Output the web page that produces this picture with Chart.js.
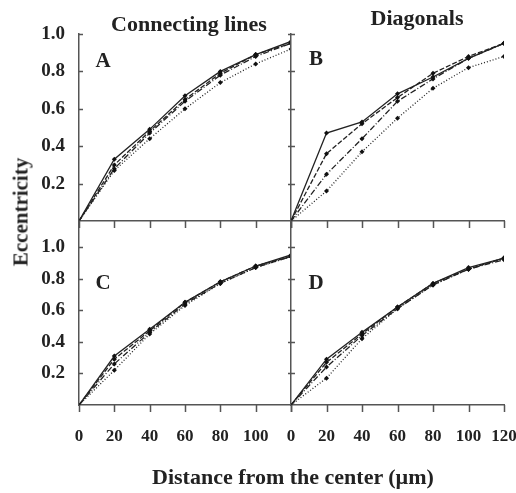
<!DOCTYPE html>
<html>
<head>
<meta charset="utf-8">
<script src="https://cdn.jsdelivr.net/npm/chart.js@4.4.1/dist/chart.umd.min.js"></script>
<style>
  html, body { margin: 0; padding: 0; background: #fff; }
  #wrap { position: relative; width: 516px; height: 493px; overflow: hidden; font-family: 'Liberation Serif', 'DejaVu Serif', serif; font-weight: bold; color: #222; }
  #wrap canvas { position: absolute; left: 0; top: 0; }
  .lbl { position: absolute; white-space: nowrap; transform: translate(-50%, -50%); line-height: 1; }
</style>
</head>
<body>
<div id="wrap">
  <canvas id="chart-a" width="516" height="493"></canvas>
  <canvas id="chart-b" width="516" height="493"></canvas>
  <canvas id="chart-c" width="516" height="493"></canvas>
  <canvas id="chart-d" width="516" height="493"></canvas>
  <div class="lbl" style="left:189px;top:24px;font-size:22px">Connecting lines</div>
  <div class="lbl" style="left:417px;top:18px;font-size:22px">Diagonals</div>
  <div class="lbl" style="left:103px;top:60px;font-size:21px">A</div>
  <div class="lbl" style="left:316px;top:58px;font-size:21px">B</div>
  <div class="lbl" style="left:103px;top:282px;font-size:21px">C</div>
  <div class="lbl" style="left:316px;top:282px;font-size:21px">D</div>
  <div class="lbl" style="left:21px;top:212px;font-size:21px;transform:translate(-50%,-50%) rotate(-90deg)">Eccentricity</div>
  <div class="lbl" style="left:293px;top:477px;font-size:22px">Distance from the center (µm)</div>
</div>
<script>
// distance from the center, in µm
const distances = [0, 20, 40, 60, 80, 100, 120];
const yTicks = [0.2, 0.4, 0.6, 0.8, 1.0];

// A: connecting lines, upper row
const seriesA1 = [0, 0.33, 0.49, 0.67, 0.80, 0.89, 0.96];
const seriesA2 = [0, 0.30, 0.48, 0.65, 0.79, 0.89, 0.95];
const seriesA3 = [0, 0.28, 0.47, 0.64, 0.78, 0.88, 0.95];
const seriesA4 = [0, 0.27, 0.44, 0.60, 0.74, 0.84, 0.92];

// B: diagonals, upper row
const seriesB1 = [0, 0.47, 0.53, 0.68, 0.77, 0.87, 0.95];
const seriesB2 = [0, 0.36, 0.52, 0.66, 0.79, 0.88, 0.95];
const seriesB3 = [0, 0.25, 0.44, 0.64, 0.76, 0.87, 0.95];
const seriesB4 = [0, 0.16, 0.37, 0.55, 0.71, 0.82, 0.88];

// C: connecting lines, lower row
const seriesC1 = [0, 0.31, 0.48, 0.65, 0.78, 0.88, 0.95];
const seriesC2 = [0, 0.29, 0.47, 0.65, 0.78, 0.88, 0.94];
const seriesC3 = [0, 0.26, 0.46, 0.64, 0.77, 0.87, 0.94];
const seriesC4 = [0, 0.22, 0.45, 0.63, 0.77, 0.87, 0.94];

// D: diagonals, lower row
const seriesD1 = [0, 0.29, 0.46, 0.62, 0.77, 0.87, 0.93];
const seriesD2 = [0, 0.27, 0.45, 0.62, 0.77, 0.86, 0.93];
const seriesD3 = [0, 0.24, 0.44, 0.61, 0.76, 0.86, 0.92];
const seriesD4 = [0, 0.17, 0.42, 0.61, 0.76, 0.86, 0.93];

const dashes = [[], [5, 2], [6, 2, 1, 2], [1, 2]];
const W = 516;
const H = 493;
const FONT = "'Liberation Serif', 'DejaVu Serif', serif";

// short tick marks: x ticks hang below the axis, y ticks straddle it
const tickMarks = {
  id: 'tickMarks',
  afterDraw(chart, args, opts) {
    const { ctx, chartArea } = chart;
    const x = chart.scales.x;
    const y = chart.scales.y;
    ctx.save();
    ctx.strokeStyle = '#555';
    ctx.lineWidth = 1.5;
    ctx.beginPath();
    distances.forEach((d) => {
      const px = Math.round(x.getPixelForValue(d)) + 0.5;
      ctx.moveTo(px, chartArea.bottom);
      ctx.lineTo(px, chartArea.bottom + 7);
    });
    yTicks.forEach((v) => {
      const py = Math.round(y.getPixelForValue(v)) + 0.5;
      ctx.moveTo(chartArea.left - opts.out, py);
      ctx.lineTo(chartArea.left + 4, py);
    });
    ctx.stroke();
    ctx.restore();
  }
};

function makePanel(id, series, area, yMax, showYLabels, xLabelMax) {
  new Chart(document.getElementById(id), {
    type: 'line',
    data: {
      labels: distances,
      datasets: series.map((values, i) => ({
        data: values.map((v, j) => ({ x: distances[j], y: v })),
        borderColor: '#222',
        borderWidth: 1.3,
        borderDash: dashes[i],
        pointRadius: values.map((v, j) => (j === 0 ? 0 : 2.5)),
        pointStyle: 'rectRot',
        pointBackgroundColor: '#111',
        pointBorderColor: '#111',
        pointBorderWidth: 0,
        tension: 0
      }))
    },
    options: {
      responsive: false,
      animation: false,
      layout: { autoPadding: false, padding: { left: 0, top: area.top, right: W - area.right, bottom: 0 } },
      plugins: {
        legend: { display: false },
        tooltip: { enabled: false },
        tickMarks: { out: showYLabels ? 0 : 3 }
      },
      scales: {
        x: {
          type: 'linear',
          min: 0,
          max: 120,
          afterFit: (s) => {
            s.height = H - area.bottom;
            s.paddingLeft = 0;
            s.paddingRight = 0;
          },
          grid: { display: false, drawTicks: false },
          border: { color: '#555', width: 1.5 },
          ticks: {
            display: xLabelMax !== null,
            stepSize: 20,
            padding: 21,
            color: '#222',
            font: { family: FONT, size: 17, weight: 'bold' },
            callback: (v) => (xLabelMax !== null && v <= xLabelMax ? v : '')
          }
        },
        y: {
          min: 0,
          max: yMax,
          afterFit: (s) => {
            s.width = area.left;
            s.paddingTop = 0;
            s.paddingBottom = 0;
          },
          grid: { display: false, drawTicks: false },
          border: { color: '#555', width: 1.5 },
          ticks: {
            display: showYLabels,
            stepSize: 0.2,
            includeBounds: false,
            padding: 14,
            color: '#222',
            font: { family: FONT, size: 19, weight: 'bold' },
            callback: (v) => (v > 0.01 && v < 1.01 ? v.toFixed(1) : '')
          }
        }
      }
    },
    plugins: [tickMarks]
  });
}

makePanel('chart-a', [seriesA1, seriesA2, seriesA3, seriesA4], { left: 79, top: 34, right: 291, bottom: 221 }, 1.0, true, null);
makePanel('chart-b', [seriesB1, seriesB2, seriesB3, seriesB4], { left: 291, top: 34, right: 504, bottom: 221 }, 1.0, false, null);
makePanel('chart-c', [seriesC1, seriesC2, seriesC3, seriesC4], { left: 79, top: 221, right: 291, bottom: 405 }, 1.165, true, 100);
makePanel('chart-d', [seriesD1, seriesD2, seriesD3, seriesD4], { left: 291, top: 221, right: 504, bottom: 405 }, 1.165, false, 120);
</script>
</body>
</html>
